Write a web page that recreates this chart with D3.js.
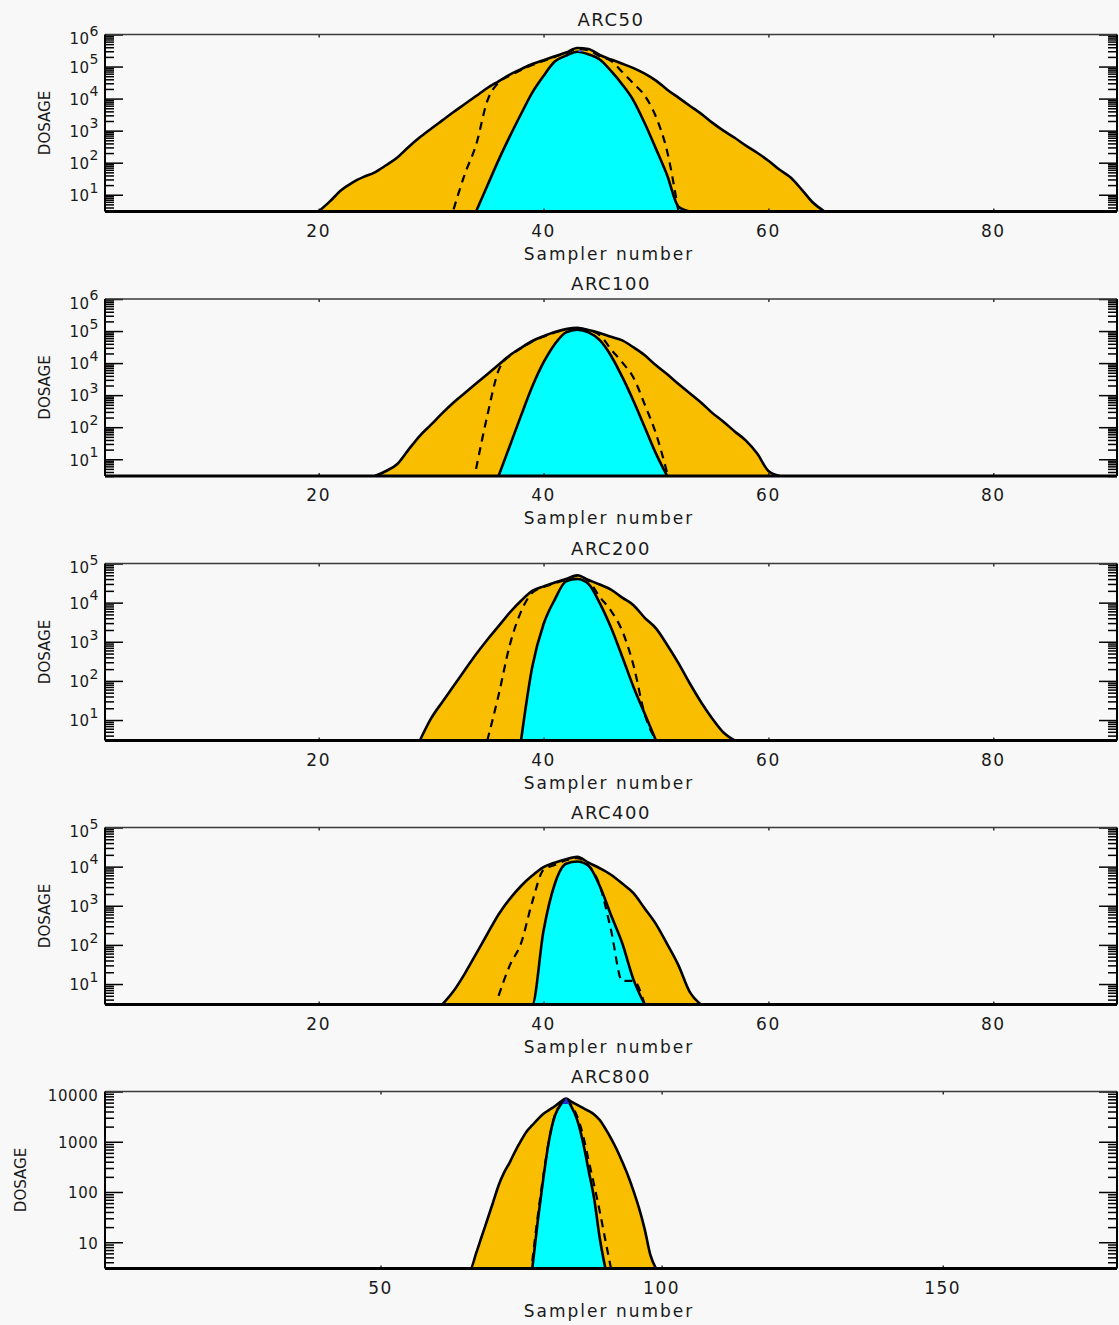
<!DOCTYPE html>
<html><head><meta charset="utf-8">
<script src="https://cdn.jsdelivr.net/npm/d3@7"></script>
<style>
html,body{margin:0;padding:0;background:#f8f8f8;}
svg{display:block;}
text{font-family:"DejaVu Sans",sans-serif;fill:#1a1a1a;}
</style></head><body>
<svg id="chart" width="1119" height="1325"></svg>
<script>
// ---------------- DATA ----------------
const TITLES = ["ARC50", "ARC100", "ARC200", "ARC400", "ARC800"];
const X_TICKS_ARC = [20, 40, 60, 80];
const X_TICKS_ARC800 = [50, 100, 150];
const Y_LABELS_1E6 = [1e1, 1e2, 1e3, 1e4, 1e5, 1e6];
const Y_LABELS_1E5 = [1e1, 1e2, 1e3, 1e4, 1e5];
const Y_LABELS_ARC800 = [10, 100, 1000, 10000];

// ARC50 (samplers, consecutive from first index)
const ARC50_OUTER_FIRST = 20;
const ARC50_OUTER = [2, 6.2, 13.8, 24, 36, 50, 83, 145, 310, 620, 1150, 2090, 3800, 6760, 12000, 21400, 34700, 56200, 83200, 120000, 158000, 209000, 275000, 380000, 355000, 229000, 166000, 123000, 89000, 60000, 36300, 19000, 10700, 6000, 3400, 1780, 1000, 600, 340, 204, 115, 60, 34, 14, 5.5, 2];
const ARC50_INNER_FIRST = 34;
const ARC50_INNER = [2.5, 19, 120, 660, 3300, 15400, 51000, 143000, 220000, 290000, 240000, 166000, 73000, 27700, 8700, 1700, 270, 40, 4.2, 2];
const ARC50_DASHED_FIRST = 32;
const ARC50_DASHED = [3.5, 44, 360, 8500, 31600, 52000, 78000, 112000, 150000, 200000, 262000, 350000, 320000, 210000, 150000, 68000, 29500, 12300, 2700, 220, 3];
const ARC50_PEAK = [43, 300000];

// ARC100
const ARC100_OUTER_FIRST = 25;
const ARC100_OUTER = [2, 4.3, 7.1, 20, 54, 120, 275, 590, 1170, 2300, 4500, 8900, 17500, 30000, 49000, 69000, 93000, 115000, 126000, 107000, 87000, 66000, 51000, 31000, 17500, 8500, 4450, 2240, 1150, 590, 280, 148, 74, 38, 15, 4.3, 2];
const ARC100_INNER_FIRST = 36;
const ARC100_INNER = [2.5, 26, 230, 1860, 10500, 39000, 91000, 110000, 91000, 52000, 17000, 3700, 660, 100, 15, 2.5];
const ARC100_DASHED_FIRST = 34;
const ARC100_DASHED = [5, 230, 5900, 17000, 29000, 47000, 67000, 90000, 112000, 122000, 104000, 75000, 27000, 10500, 3500, 510, 63, 3.7];

// ARC200
const ARC200_OUTER_FIRST = 29;
const ARC200_OUTER = [2, 11, 29, 74, 190, 480, 1130, 2500, 5600, 11200, 20000, 26000, 32500, 40000, 50000, 38000, 29000, 21500, 13400, 8600, 4100, 2200, 830, 285, 87, 29, 11, 4.8, 2];
const ARC200_INNER_FIRST = 38;
const ARC200_INNER = [2.5, 230, 2800, 12000, 35000, 40000, 30000, 9700, 2300, 415, 70, 14.5, 2.5];
const ARC200_DASHED_FIRST = 35;
const ARC200_DASHED = [3, 43, 830, 5900, 18000, 25000, 31000, 38500, 48000, 36000, 14000, 6200, 1900, 250, 14, 2];

// ARC400
const ARC400_OUTER_FIRST = 31;
const ARC400_OUTER = [2, 6.6, 18.5, 59, 190, 600, 1500, 3200, 5900, 9700, 12600, 15500, 17800, 12600, 9100, 6200, 3700, 2100, 850, 340, 104, 30, 6.3, 2];
const ARC400_INNER_FIRST = 38;
const ARC400_INNER = [2, 2.8, 230, 3600, 11800, 13500, 10500, 3200, 580, 110, 13, 2];
const ARC400_DASHED_FIRST = 36;
const ARC400_DASHED = [5, 30, 110, 1260, 8300, 11000, 14500, 16500, 10800, 3300, 240, 12, 12, 2];

// ARC800
const ARC800_OUTER_FIRST = 65;
const ARC800_OUTER = [2, 2.8, 6, 13, 28, 61, 135, 245, 390, 660, 1050, 1600, 2130, 2830, 3600, 4300, 5100, 6200, 7200, 6200, 5400, 4700, 4100, 3500, 2700, 1820, 1170, 710, 400, 215, 105, 47, 18, 5.6, 2];
const ARC800_INNER_FIRST = 77;
const ARC800_INNER = [2, 28, 200, 1100, 3250, 5400, 6800, 4900, 2700, 1000, 275, 74, 12, 2];
const ARC800_DASHED_FIRST = 77;
const ARC800_DASHED = [4.2, 35, 225, 1120, 3300, 5500, 6900, 5200, 3160, 1380, 435, 138, 41, 11, 2];
const ARC800_PEAK = [83, 6800];

// ---------------- BUILD ----------------
const series = (first, vals) => vals.map((v, i) => [first + i, v]);

const panels = [
  {title: TITLES[0], top: 34.5, xDomain: [1, 91], yDomain: [3, 1e6], xticks: X_TICKS_ARC, ylabels: Y_LABELS_1E6, pow: true,
   outer: series(ARC50_OUTER_FIRST, ARC50_OUTER), inner: series(ARC50_INNER_FIRST, ARC50_INNER), dashed: series(ARC50_DASHED_FIRST, ARC50_DASHED), peak: ARC50_PEAK, peakShape: "dash"},
  {title: TITLES[1], top: 299, xDomain: [1, 91], yDomain: [3, 1e6], xticks: X_TICKS_ARC, ylabels: Y_LABELS_1E6, pow: true,
   outer: series(ARC100_OUTER_FIRST, ARC100_OUTER), inner: series(ARC100_INNER_FIRST, ARC100_INNER), dashed: series(ARC100_DASHED_FIRST, ARC100_DASHED)},
  {title: TITLES[2], top: 563.5, xDomain: [1, 91], yDomain: [3, 1e5], xticks: X_TICKS_ARC, ylabels: Y_LABELS_1E5, pow: true,
   outer: series(ARC200_OUTER_FIRST, ARC200_OUTER), inner: series(ARC200_INNER_FIRST, ARC200_INNER), dashed: series(ARC200_DASHED_FIRST, ARC200_DASHED)},
  {title: TITLES[3], top: 827.5, xDomain: [1, 91], yDomain: [3, 1e5], xticks: X_TICKS_ARC, ylabels: Y_LABELS_1E5, pow: true,
   outer: series(ARC400_OUTER_FIRST, ARC400_OUTER), inner: series(ARC400_INNER_FIRST, ARC400_INNER), dashed: series(ARC400_DASHED_FIRST, ARC400_DASHED)},
  {title: TITLES[4], top: 1091.5, xDomain: [1, 181], yDomain: [3, 1e4], xticks: X_TICKS_ARC800, ylabels: Y_LABELS_ARC800, pow: false,
   outer: series(ARC800_OUTER_FIRST, ARC800_OUTER), inner: series(ARC800_INNER_FIRST, ARC800_INNER), dashed: series(ARC800_DASHED_FIRST, ARC800_DASHED), peak: ARC800_PEAK, peakShape: "tri"}
];

const ORANGE = "#f9be00", CYAN = "#00ffff";
const L = 105, W = 1012, H = 177;
const svg = d3.select("#chart");
svg.append("rect").attr("width", 1119).attr("height", 1325).attr("fill", "#f8f8f8");

const isPow = t => Math.abs(Math.log10(t) - Math.round(Math.log10(t))) < 1e-9;

panels.forEach((p, idx) => {
  const g = svg.append("g").attr("transform", `translate(${L},${p.top})`);
  const x = d3.scaleLinear().domain(p.xDomain).range([0, W]);
  const y = d3.scaleLog().domain(p.yDomain).range([H, 0]);
  const yv = v => y(Math.max(v, p.yDomain[0]));

  const clipId = "clip" + idx;
  g.append("clipPath").attr("id", clipId).append("rect").attr("width", W).attr("height", H);
  const plot = g.append("g").attr("clip-path", `url(#${clipId})`);

  const area = d3.area().curve(d3.curveMonotoneX).x(d => x(d[0])).y0(H).y1(d => yv(d[1]));
  const line = d3.line().curve(d3.curveMonotoneX).x(d => x(d[0])).y(d => yv(d[1]));

  plot.append("path").datum(p.outer).attr("d", area).attr("fill", ORANGE);
  plot.append("path").datum(p.inner).attr("d", area).attr("fill", CYAN);
  plot.append("path").datum(p.outer).attr("d", line).attr("fill", "none")
    .attr("stroke", "#000").attr("stroke-width", 2.6).attr("stroke-linejoin", "round");
  plot.append("path").datum(p.inner).attr("d", line).attr("fill", "none")
    .attr("stroke", "#000").attr("stroke-width", 2.6).attr("stroke-linejoin", "round");
  plot.append("path").datum(p.dashed).attr("d", line).attr("fill", "none")
    .attr("stroke", "#000").attr("stroke-width", 2.2).attr("stroke-dasharray", "8,6");

  if (p.peak) {
    if (p.peakShape === "dash") {
      plot.append("line").attr("x1", x(p.peak[0]) + 1).attr("x2", x(p.peak[0]) + 5)
        .attr("y1", yv(p.peak[1])).attr("y2", yv(p.peak[1]))
        .attr("stroke", "#1f3cff").attr("stroke-width", 1.6);
    } else {
      plot.append("path").attr("d", d3.symbol(d3.symbolTriangle, 22)())
        .attr("transform", `translate(${x(p.peak[0])},${yv(p.peak[1]) + 2})`)
        .attr("fill", "#1830c8");
    }
  }

  // y ticks (log, major + minor) left and right, inward
  const all = y.ticks();
  const majors = all.filter(isPow);
  const minors = all.filter(t => !isPow(t));
  const axes = [
    [d3.axisRight(y).tickValues(minors).tickSize(9), 0],
    [d3.axisRight(y).tickValues(majors).tickSize(18), 0],
    [d3.axisLeft(y).tickValues(minors).tickSize(9), W],
    [d3.axisLeft(y).tickValues(majors).tickSize(18), W]
  ];
  axes.forEach(([ax, tx]) => {
    const a = g.append("g").attr("transform", `translate(${tx},0)`).call(ax.tickFormat(""));
    a.select(".domain").remove();
    a.selectAll("line").attr("stroke", "#000").attr("stroke-width", 1.5);
  });

  // x ticks tiny, top and bottom
  [[d3.axisBottom(x), 0], [d3.axisTop(x), H]].forEach(([ax, ty]) => {
    const a = g.append("g").attr("transform", `translate(0,${ty})`)
      .call(ax.tickValues(p.xticks).tickSize(3).tickFormat(""));
    a.select(".domain").remove();
    a.selectAll("line").attr("stroke", "#000").attr("stroke-width", 1.2);
  });

  // frame
  g.append("line").attr("x1", 0).attr("x2", W).attr("y1", 0).attr("y2", 0).attr("stroke", "#3a3a3a").attr("stroke-width", 1.5);
  g.append("line").attr("x1", 0).attr("x2", W).attr("y1", H).attr("y2", H).attr("stroke", "#000").attr("stroke-width", 3);
  g.append("line").attr("x1", 0).attr("x2", 0).attr("y1", 0).attr("y2", H).attr("stroke", "#000").attr("stroke-width", 2);
  g.append("line").attr("x1", W).attr("x2", W).attr("y1", 0).attr("y2", H).attr("stroke", "#000").attr("stroke-width", 2);

  // y labels
  p.ylabels.forEach((v, i) => {
    const top = i === p.ylabels.length - 1;
    const ty = y(v) + (top ? 9.5 : 6.3);
    const t = g.append("text").attr("x", -6.5).attr("y", ty).attr("text-anchor", "end");
    if (p.pow) {
      t.append("tspan").attr("font-size", 15).attr("letter-spacing", 0.5).text("10");
      t.append("tspan").attr("font-size", 14).attr("dy", -8.5).text(String(Math.round(Math.log10(v))));
    } else {
      t.attr("font-size", 15).attr("letter-spacing", 0.6).text(String(v));
    }
  });

  // DOSAGE
  const dx = p.pow ? 49.5 : 25.5;
  svg.append("text").attr("transform", `translate(${dx},${p.top + H / 2}) rotate(-90)`)
    .attr("text-anchor", "middle").attr("font-size", 15).text("DOSAGE");

  // x labels
  p.xticks.forEach(v => {
    g.append("text").attr("x", x(v)).attr("y", H + 25).attr("text-anchor", "middle")
      .attr("font-size", 17).attr("letter-spacing", 1.5).text(String(v));
  });
  g.append("text").attr("x", W / 2 - 2).attr("y", H + 48).attr("text-anchor", "middle")
    .attr("font-size", 17).attr("letter-spacing", 2).text("Sampler number");

  // title
  g.append("text").attr("x", W / 2).attr("y", -9).attr("text-anchor", "middle")
    .attr("font-size", 18).attr("letter-spacing", 1.5).text(p.title);
});
</script>
</body></html>
